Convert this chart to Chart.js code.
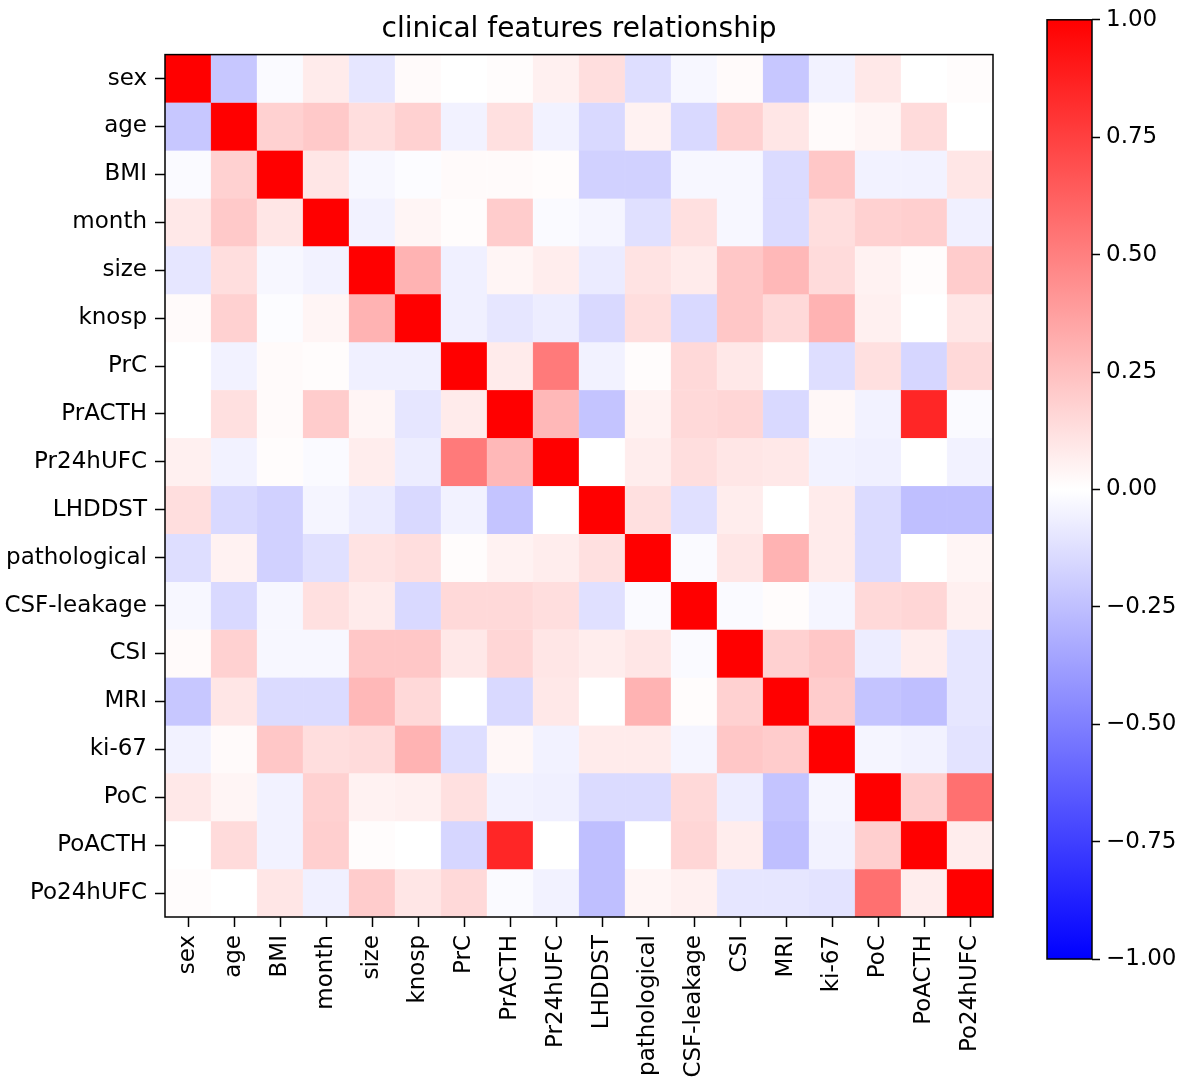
<!DOCTYPE html>
<html>
<head>
<meta charset="utf-8">
<script src="https://cdn.jsdelivr.net/npm/chart.js@4/dist/chart.umd.min.js"></script>
<style>
  body { margin: 0; background: #fff; width: 1181px; height: 1090px; overflow: hidden; }
  #heatBox { position: absolute; left: 0; top: 0; width: 1000px; height: 1090px; }
  #barBox { position: absolute; left: 1000px; top: 0; width: 181px; height: 1090px; }
</style>
</head>
<body>
<div id="heatBox"><canvas id="heat"></canvas></div>
<div id="barBox"><canvas id="cbar"></canvas></div>
<script>
// 변수 이름 (행/열 공통)
let features = ['sex', 'age', 'BMI', 'month', 'size', 'knosp', 'PrC', 'PrACTH', 'Pr24hUFC', 'LHDDST',
  'pathological', 'CSF-leakage', 'CSI', 'MRI', 'ki-67', 'PoC', 'PoACTH', 'Po24hUFC'];

// 상관계수 한 행씩
let r_sex          = [1, -0.22, -0.02, 0.08, -0.10, 0.02, 0.00, 0.01, 0.06, 0.13, -0.13, -0.03, 0.02, -0.22, -0.05, 0.09, 0.00, 0.01];
let r_age          = [-0.22, 1, 0.18, 0.21, 0.13, 0.18, -0.05, 0.12, -0.05, -0.15, 0.05, -0.15, 0.18, 0.10, 0.02, 0.04, 0.14, 0.00];
let r_BMI          = [-0.02, 0.18, 1, 0.10, -0.03, -0.01, 0.02, 0.02, 0.01, -0.18, -0.18, -0.03, -0.03, -0.14, 0.22, -0.05, -0.05, 0.10];
let r_month        = [0.09, 0.21, 0.10, 1, -0.05, 0.04, 0.01, 0.20, -0.02, -0.04, -0.12, 0.12, -0.03, -0.14, 0.13, 0.18, 0.19, -0.06];
let r_size         = [-0.10, 0.13, -0.03, -0.05, 1, 0.30, -0.06, 0.04, 0.07, -0.08, 0.11, 0.08, 0.22, 0.28, 0.14, 0.05, 0.01, 0.20];
let r_knosp        = [0.02, 0.18, -0.01, 0.04, 0.30, 1, -0.06, -0.10, -0.07, -0.15, 0.13, -0.15, 0.22, 0.15, 0.30, 0.06, 0.00, 0.10];
let r_PrC          = [0.00, -0.05, 0.02, 0.01, -0.06, -0.06, 1, 0.08, 0.52, -0.05, 0.01, 0.15, 0.09, 0.00, -0.13, 0.12, -0.16, 0.15];
let r_PrACTH       = [0.00, 0.12, 0.02, 0.20, 0.04, -0.10, 0.08, 1, 0.28, -0.23, 0.05, 0.15, 0.16, -0.15, 0.03, -0.05, 0.85, -0.02];
let r_Pr24hUFC     = [0.06, -0.05, 0.01, -0.02, 0.07, -0.07, 0.52, 0.28, 1, 0.00, 0.07, 0.13, 0.10, 0.09, -0.05, -0.06, 0.00, -0.05];
let r_LHDDST       = [0.13, -0.15, -0.18, -0.04, -0.08, -0.15, -0.05, -0.23, 0.00, 1, 0.12, -0.12, 0.07, 0.00, 0.08, -0.14, -0.25, -0.25];
let r_pathological = [-0.13, 0.05, -0.18, -0.12, 0.11, 0.13, 0.01, 0.05, 0.07, 0.12, 1, -0.02, 0.10, 0.30, 0.08, -0.14, 0.00, 0.04];
let r_CSF          = [-0.03, -0.15, -0.03, 0.12, 0.08, -0.15, 0.15, 0.15, 0.13, -0.12, -0.02, 1, -0.02, 0.01, -0.04, 0.15, 0.16, 0.06];
let r_CSI          = [0.02, 0.18, -0.03, -0.03, 0.22, 0.22, 0.09, 0.16, 0.10, 0.07, 0.10, -0.02, 1, 0.18, 0.22, -0.07, 0.07, -0.10];
let r_MRI          = [-0.22, 0.10, -0.14, -0.14, 0.28, 0.15, 0.00, -0.15, 0.09, 0.00, 0.30, 0.01, 0.18, 1, 0.20, -0.23, -0.25, -0.10];
let r_ki67         = [-0.05, 0.02, 0.22, 0.13, 0.14, 0.30, -0.13, 0.03, -0.05, 0.08, 0.08, -0.04, 0.22, 0.20, 1, -0.04, -0.05, -0.11];
let r_PoC          = [0.09, 0.04, -0.05, 0.18, 0.05, 0.06, 0.12, -0.05, -0.06, -0.14, -0.14, 0.15, -0.07, -0.23, -0.04, 1, 0.19, 0.56];
let r_PoACTH       = [0.00, 0.14, -0.05, 0.19, 0.01, 0.00, -0.16, 0.85, 0.00, -0.25, 0.00, 0.16, 0.07, -0.25, -0.05, 0.19, 1, 0.07];
let r_Po24hUFC     = [0.01, 0.00, 0.10, -0.06, 0.20, 0.10, 0.15, -0.02, -0.05, -0.25, 0.04, 0.06, -0.10, -0.10, -0.11, 0.56, 0.07, 1];

let rows = [r_sex, r_age, r_BMI, r_month, r_size, r_knosp, r_PrC, r_PrACTH, r_Pr24hUFC, r_LHDDST,
  r_pathological, r_CSF, r_CSI, r_MRI, r_ki67, r_PoC, r_PoACTH, r_Po24hUFC];

// 컬러바 눈금
let cbarTicks = [-1, -0.75, -0.5, -0.25, 0, 0.25, 0.5, 0.75, 1];

const FONT = 'DejaVu Sans';

// matplotlib bwr 색상표
function bwr(v) {
  let r, g, b;
  if (v >= 0) { r = 255; g = b = Math.round(255 * (1 - v)); }
  else { r = g = Math.round(255 * (1 + v)); b = 255; }
  return 'rgb(' + r + ',' + g + ',' + b + ')';
}

function fmt(v) {
  return v < 0 ? '\u2212' + Math.abs(v).toFixed(2) : v.toFixed(2);
}

// 테두리 네 변 다 그리기
const frame = {
  id: 'frame',
  afterDatasetsDraw(chart) {
    const a = chart.chartArea, c = chart.ctx;
    c.save();
    c.strokeStyle = '#000';
    c.lineWidth = 1.5;
    c.strokeRect(a.left, a.top, a.right - a.left, a.bottom - a.top);
    c.restore();
  }
};

// 각 행이 하나의 dataset, 값 1씩 쌓아서 칸을 만든다
let my_datasets = [];
for (let i = 0; i < rows.length; i++) {
  my_datasets[i] = {
    label: features[i],
    data: rows[i].map(() => 1),
    corr: rows[i],
    backgroundColor: rows[i].map(v => bwr(v)),
    borderColor: rows[i].map(v => bwr(v)),
    borderWidth: 0.5,
    borderSkipped: false,
    categoryPercentage: 1,
    barPercentage: 1
  };
}

new Chart(document.getElementById('heat').getContext('2d'), {
  type: 'bar',
  data: { labels: features, datasets: my_datasets },
  options: {
    responsive: true,
    maintainAspectRatio: false,
    animation: false,
    layout: { padding: { left: 0, right: 7, top: 0, bottom: 0 } },
    plugins: {
      legend: { display: false },
      tooltip: { enabled: false },
      title: {
        display: true,
        fullSize: false,
        text: 'clinical features relationship',
        color: '#000',
        font: { family: FONT, size: 28, weight: 'normal' },
        padding: { top: 13, bottom: 8 }
      }
    },
    scales: {
      x: {
        stacked: true,
        grid: { display: true, offset: false, drawOnChartArea: false, tickLength: 10, color: '#000', tickWidth: 1.5 },
        border: { display: false },
        ticks: {
          color: '#000',
          font: { family: FONT, size: 23 },
          maxRotation: 90, minRotation: 90,
          padding: 8,
          autoSkip: false
        },
        afterFit(scale) {
          scale.height = 173;
          scale.paddingLeft = 0;
          scale.paddingRight = 0;
        }
      },
      y: {
        stacked: true,
        min: 0, max: rows.length,
        reverse: true,
        grid: { display: true, drawOnChartArea: false, tickLength: 10, color: '#000', tickWidth: 1.5 },
        border: { display: false },
        afterBuildTicks(axis) {
          axis.ticks = features.map((f, i) => ({ value: i + 0.5 }));
        },
        ticks: {
          color: '#000',
          font: { family: FONT, size: 23 },
          padding: 8,
          autoSkip: false,
          callback: function(value) {
            return features[Math.floor(value)];
          }
        },
        afterFit(scale) {
          scale.width = 165;
        }
      }
    }
  },
  plugins: [frame]
});

// 컬러바
new Chart(document.getElementById('cbar').getContext('2d'), {
  type: 'bar',
  data: {
    labels: [''],
    datasets: [{
      data: [[-1, 1]],
      backgroundColor: function(context) {
        const a = context.chart.chartArea;
        if (!a) return '#fff';
        const g = context.chart.ctx.createLinearGradient(0, a.bottom, 0, a.top);
        g.addColorStop(0, bwr(-1));
        g.addColorStop(0.5, bwr(0));
        g.addColorStop(1, bwr(1));
        return g;
      },
      borderWidth: 0,
      categoryPercentage: 1,
      barPercentage: 1
    }]
  },
  options: {
    responsive: true,
    maintainAspectRatio: false,
    animation: false,
    layout: { padding: { left: 47, right: 0, top: 13, bottom: 131 } },
    plugins: { legend: { display: false }, tooltip: { enabled: false } },
    scales: {
      x: { display: false },
      y: {
        position: 'right',
        min: -1, max: 1,
        grid: { display: true, drawOnChartArea: false, tickLength: 8, color: '#000', tickWidth: 1.5 },
        border: { display: false },
        afterBuildTicks(axis) {
          axis.ticks = cbarTicks.map(v => ({ value: v }));
        },
        ticks: {
          color: '#000',
          font: { family: FONT, size: 23 },
          padding: 6,
          callback: function(value) { return fmt(value); }
        },
        afterFit(scale) {
          scale.width = 89;
        }
      }
    }
  },
  plugins: [frame]
});
</script>
</body>
</html>
